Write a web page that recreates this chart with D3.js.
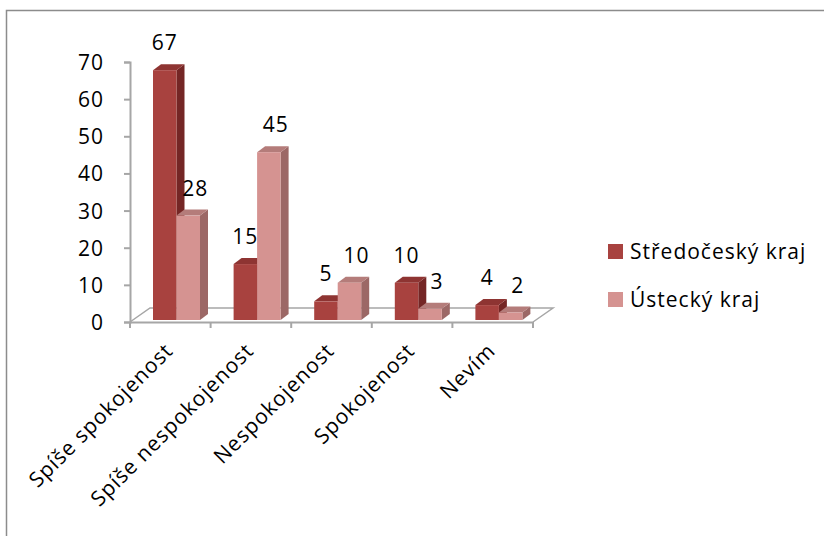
<!DOCTYPE html>
<html lang="cs">
<head>
<meta charset="UTF-8">
<script src="https://d3js.org/d3.v7.min.js"></script>
<style>
  body { margin: 0; background: #fff; }
  svg text { font-family: "Open Sans", "Noto Sans", sans-serif; fill: #000; letter-spacing: 1px; }
</style>
</head>
<body>
<div id="chart"></div>
<script>
// data
const categories = ["Spíše spokojenost", "Spíše nespokojenost", "Nespokojenost", "Spokojenost", "Nevím"];
const seriesNames = ["Středočeský kraj", "Ústecký kraj"];
const stredocesky = [67, 15, 5, 10, 4];
const ustecky = [28, 45, 10, 3, 2];
const yTicks = [0, 10, 20, 30, 40, 50, 60, 70];

// colours for front / side / top faces
const frontCol = ["#a8423f", "#d59391"];
const sideCol = ["#742625", "#9c6866"];
const topCol = ["#8e3432", "#b47c7a"];

const W = 824, H = 536;
const depth = { dx: 8, dy: -6 };
const fontSize = "21px";

const svg = d3.select("#chart").append("svg")
  .attr("width", W).attr("height", H);

// outer frame (only left and top visible)
svg.append("rect")
  .attr("x", 6.5).attr("y", 10.5)
  .attr("width", 840).attr("height", 560)
  .attr("fill", "none").attr("stroke", "#8c8c8c").attr("stroke-width", 1.5);

// scales
const x = d3.scaleBand().domain(categories).range([130, 533]).paddingInner(0);
const xs = d3.scaleBand().domain(seriesNames).range([0, 47]);
const yAxisScale = d3.scaleLinear().domain([0, 70]).range([322, 62]);
const yBar = d3.scaleLinear().domain([0, 70]).range([320, 59]);

const axisColor = "#a6a6a6";

// floor
const floorBack = 308;
svg.append("path")
  .attr("d", `M130,322 L150,${floorBack} L553,${floorBack} L533,322`)
  .attr("fill", "none").attr("stroke", axisColor).attr("stroke-width", 1.5);

// y axis
const yAxis = svg.append("g")
  .attr("transform", "translate(130,0)")
  .call(d3.axisLeft(yAxisScale).tickValues(yTicks).tickSize(6).tickPadding(20));
yAxis.select(".domain").attr("stroke", axisColor).attr("stroke-width", 2);
yAxis.selectAll(".tick line").attr("stroke", axisColor).attr("stroke-width", 2);
yAxis.selectAll("text").style("font-size", fontSize).attr("dy", "0.36em");

// x axis
const xAxis = svg.append("g")
  .attr("transform", "translate(0,322)")
  .call(d3.axisBottom(x).tickSize(0).tickFormat(""));
xAxis.select(".domain").attr("stroke", axisColor).attr("stroke-width", 2);
// ticks on category boundaries
const bounds = categories.map(c => x(c)).concat([x.range()[1]]);
xAxis.selectAll(".bound").data(bounds).enter().append("line")
  .attr("x1", d => d).attr("x2", d => d)
  .attr("y1", 0).attr("y2", 6)
  .attr("stroke", axisColor).attr("stroke-width", 2);

// category labels, rotated
svg.append("g").selectAll("text").data(categories).enter().append("text")
  .attr("transform", d => `translate(${x(d) + x.bandwidth() / 2 + 4},352) rotate(-45)`)
  .attr("text-anchor", "end")
  .style("font-size", fontSize)
  .text(d => d);

// bars
const rows = categories.map((c, i) => ({ cat: c, vals: [stredocesky[i], ustecky[i]] }));
const barOffset = 23;
const labelShift = [0, 7];
const bars = svg.append("g");
rows.forEach(r => {
  r.vals.forEach((v, s) => {
    const x0 = x(r.cat) + barOffset + xs(seriesNames[s]);
    const x1 = x0 + xs.bandwidth();
    const y0 = yBar(0), y1 = yBar(v);
    const g = bars.append("g");
    // side face
    g.append("path")
      .attr("d", `M${x1},${y1} L${x1 + depth.dx},${y1 + depth.dy} L${x1 + depth.dx},${y0 + depth.dy} L${x1},${y0} Z`)
      .attr("fill", sideCol[s]);
    // top face
    g.append("path")
      .attr("d", `M${x0},${y1} L${x0 + depth.dx},${y1 + depth.dy} L${x1 + depth.dx},${y1 + depth.dy} L${x1},${y1} Z`)
      .attr("fill", topCol[s]);
    // front face
    g.append("rect")
      .attr("x", x0).attr("y", y1)
      .attr("width", x1 - x0).attr("height", y0 - y1)
      .attr("fill", frontCol[s]);
    // value label
    g.append("text")
      .attr("x", (x0 + x1) / 2 + labelShift[s])
      .attr("y", y1 - 20)
      .attr("text-anchor", "middle")
      .style("font-size", fontSize)
      .text(v);
  });
});

// legend
const legend = svg.append("g");
seriesNames.forEach((name, i) => {
  const ly = 244 + i * 48;
  legend.append("rect")
    .attr("x", 608).attr("y", ly)
    .attr("width", 15).attr("height", 15)
    .attr("fill", frontCol[i]);
  legend.append("text")
    .attr("x", 630).attr("y", ly + 15)
    .style("font-size", fontSize)
    .text(name);
});
</script>
</body>
</html>
